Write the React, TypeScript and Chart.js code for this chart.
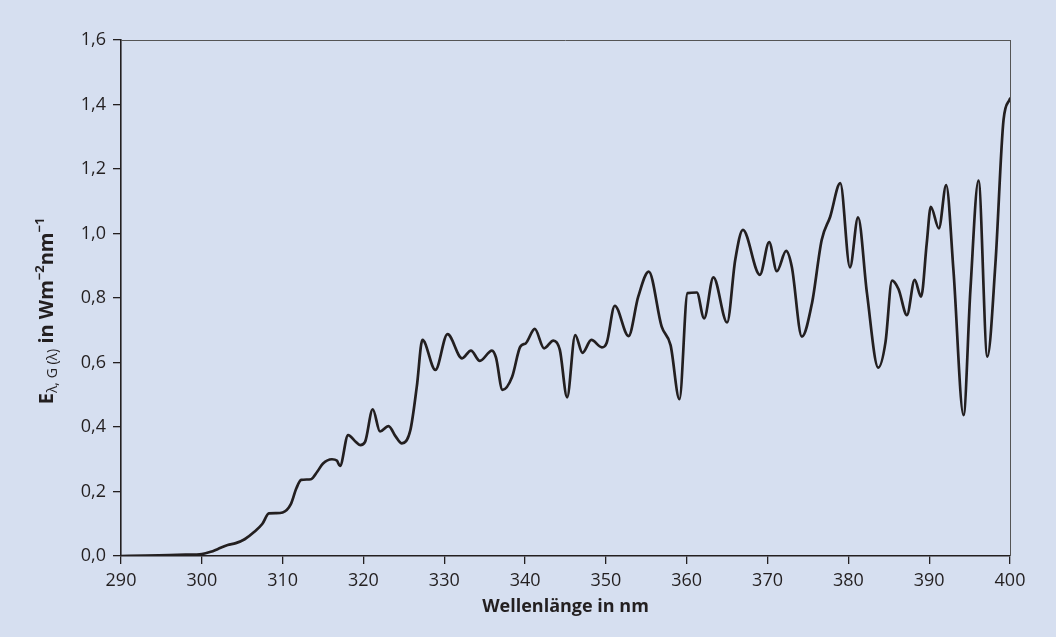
import React, { useEffect, useRef } from 'react';
import { Chart, registerables } from 'chart.js';

Chart.register(...registerables);

// Wavelength (nm)
const wavelengths = [
  290, 293, 296, 298, 300, 301.1, 302, 303.2, 304.2, 305.3, 306.5, 307.5, 308.3, 309.2, 310.0,
  311.0, 311.7, 312.3, 313.5, 314.3, 315.0, 316.1, 316.7, 317.1, 318.1, 319.0, 319.6, 320.2,
  321.15, 322.05, 323.1, 324.0, 324.75, 325.8, 326.6, 327.3, 328.9, 330.4, 332.2, 333.3, 334.4,
  335.9, 336.4, 337.2, 338.4, 339.4, 340.1, 341.2, 342.35, 343.5, 344.3, 345.2, 346.2, 347.1,
  348.2, 349.5, 350.1, 351.1, 352.8, 354.0, 355.3, 356.9, 358.0, 359.1, 360.1, 361.25, 362.15,
  363.3, 365.0, 366.0, 366.95, 369.05, 370.2, 371.15, 372.3, 373.0, 374.25, 375.5, 376.7,
  377.75, 379.0, 380.2, 381.2, 382.3, 383.7, 384.6, 385.4, 386.2, 387.25, 388.2, 389.0, 389.7,
  390.2, 391.2, 392.1, 393.0, 394.25, 395.1, 396.1, 397.2, 398.2, 399.2, 400.0,
];

// Spectral irradiance (W m^-2 nm^-1)
const irradiance = [
  0.0, 0.001, 0.003, 0.004, 0.006, 0.013, 0.022, 0.034, 0.04, 0.052, 0.075, 0.1, 0.132, 0.133, 0.135,
  0.16, 0.21, 0.236, 0.238, 0.262, 0.287, 0.3, 0.296, 0.279, 0.375, 0.355, 0.344, 0.354,
  0.455, 0.386, 0.403, 0.37, 0.349, 0.39, 0.525, 0.67, 0.577, 0.688, 0.613, 0.637, 0.605,
  0.637, 0.615, 0.515, 0.556, 0.649, 0.66, 0.704, 0.644, 0.668, 0.639, 0.492, 0.685, 0.63,
  0.67, 0.647, 0.661, 0.776, 0.682, 0.804, 0.882, 0.711, 0.654, 0.486, 0.815, 0.817, 0.737,
  0.864, 0.724, 0.918, 1.011, 0.872, 0.973, 0.883, 0.946, 0.897, 0.68, 0.784, 0.98,
  1.052, 1.156, 0.895, 1.05, 0.815, 0.584, 0.664, 0.854, 0.828, 0.747, 0.856, 0.804, 0.97,
  1.083, 1.016, 1.15, 0.887, 0.437, 0.825, 1.164, 0.618, 0.908, 1.352, 1.418,
];

const xTickValues = [290, 300, 310, 320, 330, 340, 350, 360, 370, 380, 390, 400];
const yTickValues = [0, 0.2, 0.4, 0.6, 0.8, 1.0, 1.2, 1.4, 1.6];
const yTickLabels = ['0,0', '0,2', '0,4', '0,6', '0,8', '1,0', '1,2', '1,4', '1,6'];

const xTitle = 'Wellenlänge in nm';
// y title pieces: [text, kind]
const yTitleParts: [string, string][] = [
  ['E', 'main'],
  ['λ, G (λ)', 'sub'],
  [' in Wm', 'main'],
  ['−2', 'sup'],
  ['nm', 'main'],
  ['−1', 'sup'],
];

const BG = '#d6dff0';
const INK = '#231f20';
const FONT = "'Open Sans', 'Noto Sans', sans-serif";

const titlesPlugin = {
  id: 'titles',
  afterDraw(chart: any) {
    const { ctx, chartArea } = chart;
    ctx.save();
    // frame (top & right)
    ctx.strokeStyle = '#555';
    ctx.lineWidth = 1;
    ctx.beginPath();
    ctx.moveTo(chartArea.left, Math.round(chartArea.top) + 0.5);
    ctx.lineTo(chartArea.right, Math.round(chartArea.top) + 0.5);
    ctx.moveTo(Math.round(chartArea.right) + 0.5, chartArea.top);
    ctx.lineTo(Math.round(chartArea.right) + 0.5, chartArea.bottom);
    ctx.stroke();

    ctx.fillStyle = INK;
    // x title
    ctx.font = `bold 18px ${FONT}`;
    ctx.textAlign = 'center';
    ctx.textBaseline = 'middle';
    ctx.fillText(xTitle, (chartArea.left + chartArea.right) / 2, 607);

    // y title (rotated, rich text)
    const fontFor = (k: string) =>
      k === 'main' ? `bold 20px ${FONT}` : k === 'sub' ? `14px ${FONT}` : `bold 13px ${FONT}`;
    const offFor = (k: string) => (k === 'main' ? 0 : k === 'sub' ? 6 : -7);
    let total = 0;
    const widths = yTitleParts.map(([t, k]) => {
      ctx.font = fontFor(k);
      const w = ctx.measureText(t).width;
      total += w;
      return w;
    });
    ctx.translate(47, 311);
    ctx.rotate(-Math.PI / 2);
    ctx.textAlign = 'left';
    ctx.textBaseline = 'middle';
    let x = -total / 2;
    yTitleParts.forEach(([t, k], i) => {
      ctx.font = fontFor(k);
      ctx.fillText(t, x, offFor(k));
      x += widths[i];
    });
    ctx.restore();
  },
};

export default function App() {
  const ref = useRef<HTMLCanvasElement | null>(null);

  useEffect(() => {
    if (!ref.current) return;
    const points = wavelengths.map((w, i) => ({ x: w, y: irradiance[i] }));
    const chart = new Chart(ref.current, {
      type: 'line',
      data: {
        datasets: [
          {
            data: points,
            borderColor: INK,
            borderWidth: 2.7,
            pointRadius: 0,
            fill: false,
            cubicInterpolationMode: 'monotone',
            borderJoinStyle: 'round',
            borderCapStyle: 'round',
          },
        ],
      },
      options: {
        responsive: false,
        animation: false,
        layout: { padding: { left: 0, right: 46, top: 40, bottom: 0 } },
        plugins: { legend: { display: false }, tooltip: { enabled: false } },
        scales: {
          x: {
            type: 'linear',
            min: 290,
            max: 400,
            afterBuildTicks: (s: any) => {
              s.ticks = xTickValues.map((v) => ({ value: v }));
            },
            afterFit: (s: any) => {
              s.height = 81;
            },
            ticks: {
              autoSkip: false,
              maxRotation: 0,
              color: INK,
              padding: 6,
              font: { family: FONT, size: 18 },
              callback: (v: any) => String(v),
            },
            grid: { drawOnChartArea: false, drawTicks: true, tickLength: 8, color: INK, lineWidth: 1.3 },
            border: { display: true, color: INK, width: 1.6 },
          },
          y: {
            min: 0,
            max: 1.6,
            afterBuildTicks: (s: any) => {
              s.ticks = yTickValues.map((v) => ({ value: v }));
            },
            afterFit: (s: any) => {
              s.width = 121;
            },
            ticks: {
              autoSkip: false,
              color: INK,
              padding: 7,
              font: { family: FONT, size: 18 },
              callback: (v: any) => {
                const i = yTickValues.findIndex((t) => Math.abs(t - v) < 1e-6);
                return i >= 0 ? yTickLabels[i] : '';
              },
            },
            grid: { drawOnChartArea: false, drawTicks: true, tickLength: 8, color: INK, lineWidth: 1.3 },
            border: { display: true, color: INK, width: 1.6 },
          },
        },
      },
      plugins: [titlesPlugin],
    });
    return () => chart.destroy();
  }, []);

  return (
    <div
      style={{
        position: 'fixed',
        left: 0,
        top: 0,
        width: 1056,
        height: 637,
        background: BG,
      }}
    >
      <canvas ref={ref} width={1056} height={637} style={{ display: 'block' }} />
    </div>
  );
}
